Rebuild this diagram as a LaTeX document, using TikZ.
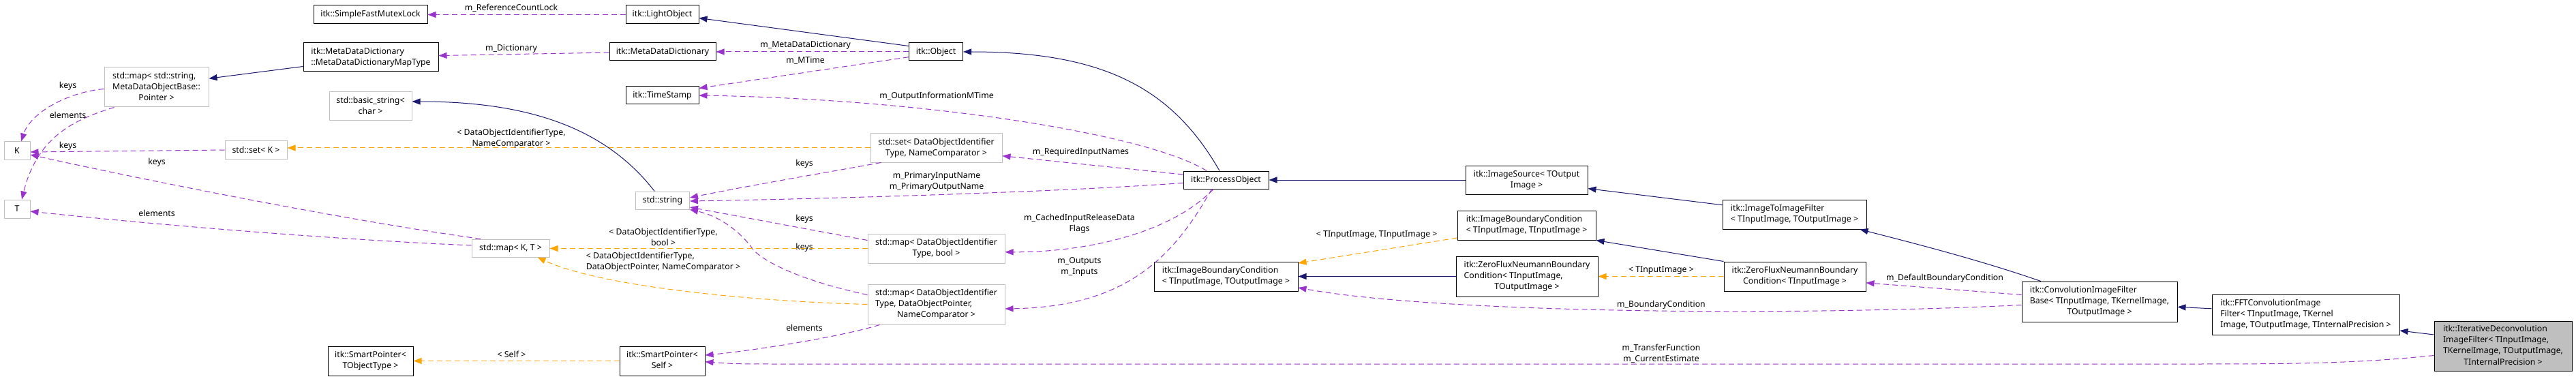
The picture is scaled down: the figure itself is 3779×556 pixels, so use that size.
\documentclass[tikz,border=0pt]{standalone}
\usepackage{fontspec}
\setmainfont{Noto Sans}
\usetikzlibrary{arrows.meta}
\definecolor{navy}{HTML}{191970}
\definecolor{orchid}{HTML}{9A32CD}
\definecolor{orng}{HTML}{FFA500}
\definecolor{gry}{HTML}{BFBFBF}
\newcommand\dxfont{\fontsize{12.3}{16.2}\selectfont}
\newcommand\lc[1]{\multicolumn{1}{@{}c@{}}{#1}}
\newcommand\tb[1]{\begin{tabular}{@{}l@{}}#1\end{tabular}}
\begin{document}
\begin{tikzpicture}[x=1pt,y=-1pt,
  bx/.style={draw=black, line width=1pt, fill=white, inner sep=0pt, font=\dxfont, align=center},
  ux/.style={bx, draw=gry},
  lbl/.style={font=\dxfont, inner sep=0pt, align=center},
  inh/.style={draw=navy, line width=1pt, -{Triangle[length=12pt,width=9pt]}},
  use/.style={draw=orchid, line width=1pt, dash pattern=on 8pt off 5pt, -{Triangle[length=12pt,width=9pt]}},
  tpl/.style={draw=orng, line width=1pt, dash pattern=on 8pt off 5pt, -{Triangle[length=12pt,width=9pt]}}]
\fill[white] (0,0) rectangle (3779,556);
\useasboundingbox (0,0) rectangle (3779,556);
% nodes
\node[bx, minimum width=167pt, minimum height=27pt] (sfml) at (543.5,21.5) {itk::SimpleFastMutexLock};
\node[bx, minimum width=107pt, minimum height=27pt] (lo) at (971.5,21.5) {itk::LightObject};
\node[bx, minimum width=198pt, minimum height=42pt] (mapt) at (544,84) {\tb{itk::MetaDataDictionary\\\lc{::MetaDataDictionaryMapType}}};
\node[bx, minimum width=156pt, minimum height=26pt] (mdd) at (972,76) {itk::MetaDataDictionary};
\node[bx, minimum width=79pt, minimum height=26pt] (obj) at (1373,76) {itk::Object};
\node[ux, minimum width=153pt, minimum height=58pt] (mapstr) at (229.5,128) {\tb{std::map< std::string,\\MetaDataObjectBase::\\\lc{Pointer >}}};
\node[bx, minimum width=107pt, minimum height=26pt] (ts) at (971.5,140) {itk::TimeStamp};
\node[ux, minimum width=121pt, minimum height=42pt] (bstr) at (543.5,156) {\tb{std::basic\_string<\\\lc{char >}}};
\node[ux, minimum width=38pt, minimum height=26pt] (K) at (25,221) {K};
\node[ux, minimum width=91pt, minimum height=26pt] (setk) at (375.5,220) {std::set< K >};
\node[ux, minimum width=193pt, minimum height=42pt] (setdoi) at (1373.5,217) {\tb{std::set< DataObjectIdentifier\\\lc{Type, NameComparator >}}};
\node[bx, minimum width=125pt, minimum height=26pt] (po) at (1798.5,264) {itk::ProcessObject};
\node[bx, minimum width=179pt, minimum height=42pt] (isrc) at (2239.5,264) {\tb{itk::ImageSource< TOutput\\\lc{Image >}}};
\node[ux, minimum width=79pt, minimum height=26pt] (str) at (972,294) {std::string};
\node[ux, minimum width=38pt, minimum height=27pt] (T) at (25,306.5) {T};
\node[bx, minimum width=211pt, minimum height=43pt] (itif) at (2632.5,314.5) {\tb{itk::ImageToImageFilter\\\lc{< TInputImage, TOutputImage >}}};
\node[bx, minimum width=203pt, minimum height=43pt] (ibcii) at (2239.5,330.5) {\tb{itk::ImageBoundaryCondition\\\lc{< TInputImage, TInputImage >}}};
\node[ux, minimum width=201pt, minimum height=43pt] (mapbool) at (1373.5,364.5) {\tb{std::map< DataObjectIdentifier\\\lc{Type, bool >}}};
\node[ux, minimum width=114pt, minimum height=26pt] (mapkt) at (749,364) {std::map< K, T >};
\node[bx, minimum width=211pt, minimum height=43pt] (ibcio) at (1798.5,405.5) {\tb{itk::ImageBoundaryCondition\\\lc{< TInputImage, TOutputImage >}}};
\node[bx, minimum width=208pt, minimum height=59pt] (zfio) at (2240,405.5) {\tb{itk::ZeroFluxNeumannBoundary\\Condition< TInputImage,\\\lc{TOutputImage >}}};
\node[bx, minimum width=208pt, minimum height=43pt] (zfi) at (2633,405.5) {\tb{itk::ZeroFluxNeumannBoundary\\\lc{Condition< TInputImage >}}};
\node[bx, minimum width=228pt, minimum height=59pt] (conv) at (3080,442.5) {\tb{itk::ConvolutionImageFilter\\Base< TInputImage, TKernelImage,\\\lc{TOutputImage >}}};
\node[ux, minimum width=201pt, minimum height=59pt] (mapdop) at (1373.5,446.5) {\tb{std::map< DataObjectIdentifier\\Type, DataObjectPointer,\\\lc{NameComparator >}}};
\node[bx, minimum width=275pt, minimum height=59pt] (fft) at (3382.5,461.5) {\tb{itk::FFTConvolutionImage\\Filter< TInputImage, TKernel\\\lc{Image, TOutputImage, TInternalPrecision >}}};
\node[bx, fill=gry, minimum width=202pt, minimum height=73pt] (iter) at (3672,507.5) {\tb{itk::IterativeDeconvolution\\ImageFilter< TInputImage,\\TKernelImage, TOutputImage,\\\lc{TInternalPrecision >}}};
\node[bx, minimum width=125pt, minimum height=43pt] (spt) at (543.5,529.5) {\tb{itk::SmartPointer<\\\lc{TObjectType >}}};
\node[bx, minimum width=125pt, minimum height=43pt] (sps) at (971.5,529.5) {\tb{itk::SmartPointer<\\\lc{Self >}}};
% edges
\draw[use] (lo.west) -- (sfml.east);
\node[lbl] (l1) at (750,12) {m\_ReferenceCountLock};
\draw[inh] ([yshift=-5pt]obj.north west) -- ([yshift=-5pt]lo.east);
\draw[use] ([yshift=-1pt]mdd.west) -- ([yshift=2.4pt]mapt.east);
\node[lbl] (l2) at (750,71.6) {m\_Dictionary};
\draw[use] (obj.west) -- (mdd.east);
\node[lbl] (l3) at (1181.6,66) {m\_MetaDataDictionary};
\draw[use] ([yshift=-7.7pt]obj.west) -- ([yshift=10.6pt]ts.east);
\node[lbl] (l4) at (1181.6,88.6) {m\_MTime};
\draw[use] ([xshift=-28.5pt]po.north) .. controls (1680,195) and (1350,145) .. (ts.east);
\node[lbl] (l5) at (1374,140.8) {m\_OutputInformationMTime};
\draw[inh] ([xshift=-9.5pt]po.north) .. controls (1720,130) and (1620,76) .. (obj.east);
\draw[use] ([yshift=8pt]po.west) -- ([yshift=-11.7pt]setdoi.east);
\node[lbl] (l6) at (1585.5,223.4) {m\_RequiredInputNames};
\draw[use] ([yshift=-4.4pt]po.west) .. controls (1550,282) and (1200,292) .. ([yshift=-1pt]str.east);
\node[lbl] (l7) at (1374,266.8) {m\_PrimaryInputName\\m\_PrimaryOutputName};
\draw[use] ([xshift=16pt]setdoi.south west) .. controls (1230,250) and (1100,272) .. ([yshift=4pt]str.east);
\node[lbl] (l8) at (1180,240.8) {keys};
\draw[use] ([yshift=-10pt]mapbool.north west) -- ([yshift=-10pt]str.east);
\node[lbl] (l9) at (1180,321) {keys};
\draw[use] ([yshift=14pt]mapdop.west) .. controls (1180,413) and (1120,385) .. (1104,365) .. controls (1090,345) and (1060,318) .. (str.south east);
\node[lbl] (l10) at (1180,363.5) {keys};
\draw[use] ([xshift=-18.5pt]po.south) .. controls (1720,340) and (1600,370) .. ([yshift=-5.3pt]mapbool.east);
\node[lbl] (l11) at (1583.5,328) {m\_CachedInputReleaseData\\Flags};
\draw[use] ([xshift=-21pt]po.south) .. controls (1720,380) and (1650,450) .. ([yshift=-6.5pt]mapdop.east);
\node[lbl] (l12) at (1583.5,391.7) {m\_Outputs\\m\_Inputs};
\draw[tpl] (setdoi.west) -- (setdoi.west -| setk.east);
\node[lbl] (l13) at (750,203.5) {< DataObjectIdentifierType,\\NameComparator >};
\draw[use] (setk.west) -- ([yshift=-2pt]K.east);
\node[lbl] (l14) at (99.5,214) {keys};
\draw[use] ([yshift=-2.5pt]mapstr.west) .. controls (100,135) and (45,165) .. ([xshift=6pt]K.north);
\node[lbl] (l15) at (99.5,126.6) {keys};
\draw[use] ([xshift=15pt]mapstr.south west) .. controls (110,175) and (55,200) .. ([xshift=7pt]T.north);
\node[lbl] (l16) at (99.5,168.4) {elements};
\draw[use] ([xshift=13.7pt]mapkt.north west) .. controls (520,325) and (230,268) .. ([yshift=-6pt]K.east);
\node[lbl] (l17) at (230,238.6) {keys};
\draw[use] ([yshift=4pt]mapkt.west) .. controls (500,352) and (230,330) .. ([yshift=-3.5pt]T.east);
\node[lbl] (l18) at (230,312.4) {elements};
\draw[tpl] (mapbool.west) -- (mapbool.west -| mapkt.east);
\node[lbl] (l19) at (973,347.5) {< DataObjectIdentifierType,\\bool >};
\draw[tpl] (mapdop.west) .. controls (1100,442) and (880,420) .. ([xshift=39.6pt]mapkt.south);
\node[lbl] (l20) at (973,384.5) {\tb{< DataObjectIdentifierType,\\DataObjectPointer, NameComparator >}};
\draw[use] ([xshift=18pt]mapdop.south west) .. controls (1230,495) and (1100,515) .. ([yshift=8.5pt]sps.east);
\node[lbl] (l21) at (1180,480.8) {elements};
\draw[use] ([yshift=-14pt]iter.west) .. controls (3450,534) and (3350,534) .. (3200,534) -- (1150,534) .. controls (1080,534) .. ([yshift=-1.3pt]sps.east);
\node[lbl] (l22) at (2437,518.6) {m\_TransferFunction\\m\_CurrentEstimate};
\draw[use] ([yshift=-5pt]conv.west) .. controls (2600,465) and (2100,458) .. ([yshift=-16.5pt]ibcio.east);
\node[lbl] (l23) at (2437,447.5) {m\_BoundaryCondition};
\draw[inh] (isrc.west) -- (po.east);
\draw[inh] ([yshift=13.8pt]itif.west) -- ([yshift=-12.6pt]isrc.east);
\draw[tpl] ([yshift=-18.5pt]ibcii.west) -- ([yshift=-2.5pt]ibcio.north east);
\node[lbl] (l24) at (2019.7,344.7) {< TInputImage, TInputImage >};
\draw[inh] (zfio.west) -- (ibcio.east);
\draw[tpl] (zfi.west) -- (zfio.east);
\node[lbl] (l25) at (2437,396.4) {< TInputImage >};
\draw[inh] (zfi.north west) -- (ibcii.south east);
\draw[inh] ([xshift=-86.25pt]conv.north) .. controls (2900,380) and (2800,355) .. ([xshift=-10pt]itif.south east);
\draw[use] ([yshift=10pt]conv.west) -- ([yshift=-9.4pt]zfi.east);
\node[lbl] (l26) at (2853,408.5) {m\_DefaultBoundaryCondition};
\draw[inh] ([yshift=8.7pt]fft.west) -- ([yshift=-7.8pt]conv.east);
\draw[inh] ([yshift=16.5pt]iter.west) -- ([yshift=-23.5pt]fft.east);
\draw[inh] ([xshift=-11.8pt]str.north) .. controls (890,190) and (780,149) .. ([yshift=7pt]bstr.east);
\draw[inh] ([yshift=-13.5pt]mapt.west) -- ([yshift=12.8pt]mapstr.east);
\draw[tpl] (sps.west) -- (spt.east);
\node[lbl] (l27) at (750.5,520) {< Self >};
\end{tikzpicture}
\end{document}
